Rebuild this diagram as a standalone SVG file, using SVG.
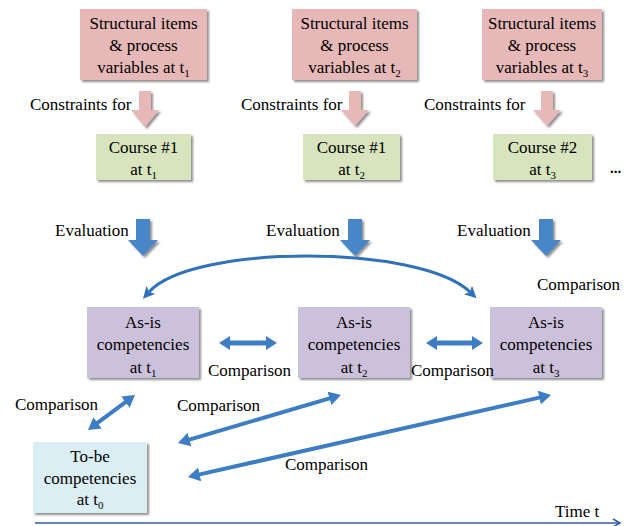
<svg xmlns="http://www.w3.org/2000/svg" width="625" height="526" viewBox="0 0 625 526">
<defs>
<filter id="sh" x="-10%" y="-10%" width="130%" height="130%">
<feDropShadow dx="2" dy="2" stdDeviation="1" flood-color="#444" flood-opacity="0.6"/>
</filter>
<marker id="dh" markerUnits="userSpaceOnUse" markerWidth="14" markerHeight="14" refX="1" refY="7" orient="auto-start-reverse" viewBox="0 0 14 14">
<path d="M0,0 L12,7 L0,14 z" fill="#3D7DC3"/>
</marker>
<marker id="ch" markerUnits="userSpaceOnUse" markerWidth="13" markerHeight="12" refX="3" refY="6" orient="auto-start-reverse" viewBox="0 0 13 12">
<path d="M0,0 L12,6 L0,12 L3,6 z" fill="#2F72BA"/>
</marker>
<marker id="th" markerUnits="userSpaceOnUse" markerWidth="10" markerHeight="10" refX="8" refY="5" orient="auto" viewBox="0 0 10 10">
<path d="M1,1 L8,5 L1,9" fill="none" stroke="#2F5AA8" stroke-width="1.5"/>
</marker>
</defs>
<style>
.pink{fill:#E6B9B8;filter:url(#sh)}
.green{fill:#D7E4BD;filter:url(#sh)}
.purple{fill:#CCC1DA;filter:url(#sh)}
.lblue{fill:#DBEEF4;filter:url(#sh)}
.parr{fill:#E6B9B8;filter:url(#sh)}
.barr{fill:#4A86C8;filter:url(#sh)}
.dbl{fill:#3D7DC3}
.dline{stroke:#3D7DC3;stroke-width:4;fill:none}
</style>

<g id="struct1"><rect class="pink" x="80" y="9" width="127" height="71"/>
<text font-family="Liberation Serif" font-size="17" text-anchor="middle" x="143.5" y="29">Structural items</text>
<text font-family="Liberation Serif" font-size="17" text-anchor="middle" x="143.5" y="51">&amp;  process</text>
<text font-family="Liberation Serif" font-size="17" text-anchor="middle" x="143.5" y="73">variables at t<tspan font-size="11" dy="4">1</tspan></text></g>
<g id="struct2"><rect class="pink" x="292" y="9" width="125" height="71"/>
<text font-family="Liberation Serif" font-size="17" text-anchor="middle" x="354.5" y="29">Structural items</text>
<text font-family="Liberation Serif" font-size="17" text-anchor="middle" x="354.5" y="51">&amp;  process</text>
<text font-family="Liberation Serif" font-size="17" text-anchor="middle" x="354.5" y="73">variables at t<tspan font-size="11" dy="4">2</tspan></text></g>
<g id="struct3"><rect class="pink" x="482" y="9" width="120" height="71"/>
<text font-family="Liberation Serif" font-size="17" text-anchor="middle" x="542" y="29">Structural items</text>
<text font-family="Liberation Serif" font-size="17" text-anchor="middle" x="542" y="51">&amp;  process</text>
<text font-family="Liberation Serif" font-size="17" text-anchor="middle" x="542" y="73">variables at t<tspan font-size="11" dy="4">3</tspan></text></g>

<g id="course1"><rect class="green" x="96" y="134" width="95" height="46"/>
<text font-family="Liberation Serif" font-size="17" text-anchor="middle" x="143.5" y="153">Course #1</text>
<text font-family="Liberation Serif" font-size="17" text-anchor="middle" x="143.5" y="175">at t<tspan font-size="11" dy="4">1</tspan></text></g>
<g id="course2"><rect class="green" x="303" y="134" width="97" height="46"/>
<text font-family="Liberation Serif" font-size="17" text-anchor="middle" x="351.5" y="153">Course #1</text>
<text font-family="Liberation Serif" font-size="17" text-anchor="middle" x="351.5" y="175">at t<tspan font-size="11" dy="4">2</tspan></text></g>
<g id="course3"><rect class="green" x="493" y="134" width="99" height="46"/>
<text font-family="Liberation Serif" font-size="17" text-anchor="middle" x="542.5" y="153">Course #2</text>
<text font-family="Liberation Serif" font-size="17" text-anchor="middle" x="542.5" y="175">at t<tspan font-size="11" dy="4">3</tspan></text></g>
<text font-family="Liberation Serif" x="610" y="173" font-size="15" font-weight="bold">...</text>

<g id="asis1"><rect class="purple" x="87" y="307" width="112" height="71"/>
<text font-family="Liberation Serif" font-size="17" text-anchor="middle" x="143" y="328">As-is</text>
<text font-family="Liberation Serif" font-size="17" text-anchor="middle" x="143" y="350">competencies</text>
<text font-family="Liberation Serif" font-size="17" text-anchor="middle" x="143" y="373">at t<tspan font-size="11" dy="4">1</tspan></text></g>
<g id="asis2"><rect class="purple" x="298" y="307" width="112" height="71"/>
<text font-family="Liberation Serif" font-size="17" text-anchor="middle" x="354" y="328">As-is</text>
<text font-family="Liberation Serif" font-size="17" text-anchor="middle" x="354" y="350">competencies</text>
<text font-family="Liberation Serif" font-size="17" text-anchor="middle" x="354" y="373">at t<tspan font-size="11" dy="4">2</tspan></text></g>
<g id="asis3"><rect class="purple" x="490" y="307" width="112" height="71"/>
<text font-family="Liberation Serif" font-size="17" text-anchor="middle" x="546" y="328">As-is</text>
<text font-family="Liberation Serif" font-size="17" text-anchor="middle" x="546" y="350">competencies</text>
<text font-family="Liberation Serif" font-size="17" text-anchor="middle" x="546" y="373">at t<tspan font-size="11" dy="4">3</tspan></text></g>

<g id="tobe"><rect class="lblue" x="33" y="442" width="114" height="71"/>
<text font-family="Liberation Serif" font-size="17" text-anchor="middle" x="90" y="462">To-be</text>
<text font-family="Liberation Serif" font-size="17" text-anchor="middle" x="90" y="484">competencies</text>
<text font-family="Liberation Serif" font-size="17" text-anchor="middle" x="90" y="505">at t<tspan font-size="11" dy="4">0</tspan></text></g>

<g id="connectors">
<polygon class="parr" points="139,91 151,91 151,110 159,110 145,127 131,110 139,110"/>
<polygon class="parr" points="349,91 361,91 361,110 369,110 355,126 341,110 349,110"/>
<polygon class="parr" points="541,91 553,91 553,110 561,110 547,126 533,110 541,110"/>
<text font-family="Liberation Serif" font-size="17" x="30" y="110">Constraints for</text>
<text font-family="Liberation Serif" font-size="17" x="241" y="110">Constraints for</text>
<text font-family="Liberation Serif" font-size="17" x="424" y="110">Constraints for</text>

<polygon class="barr" points="136,219 150,219 150,240 158,240 143,256 128,240 136,240"/>
<polygon class="barr" points="348,219 362,219 362,240 370,240 355,256 340,240 348,240"/>
<polygon class="barr" points="539,219 553,219 553,240 561,240 546,256 531,240 539,240"/>
<text font-family="Liberation Serif" font-size="17" x="55" y="236">Evaluation</text>
<text font-family="Liberation Serif" font-size="17" x="266" y="236">Evaluation</text>
<text font-family="Liberation Serif" font-size="17" x="457" y="236">Evaluation</text>

<path d="M149,292 C192,244 420,244 470,292" fill="none" stroke="#2F72BA" stroke-width="3" marker-start="url(#ch)" marker-end="url(#ch)"/>
<text font-family="Liberation Serif" font-size="17" x="537" y="290">Comparison</text>

<polygon class="dbl" points="219,343 230,336 230,340.5 266,340.5 266,336 277,343 266,350 266,345.5 230,345.5 230,350"/>
<polygon class="dbl" points="426,343 437,336 437,340.5 472,340.5 472,336 483,343 472,350 472,345.5 437,345.5 437,350"/>
<text font-family="Liberation Serif" font-size="17" x="208" y="376">Comparison</text>
<text font-family="Liberation Serif" font-size="17" x="411" y="376">Comparison</text>

<line class="dline" x1="96.8" y1="423.4" x2="126.2" y2="401.6" marker-start="url(#dh)" marker-end="url(#dh)"/>
<line class="dline" x1="188.5" y1="439.9" x2="330.4" y2="398.1" marker-start="url(#dh)" marker-end="url(#dh)"/>
<line class="dline" x1="198.7" y1="474.6" x2="540.3" y2="397.4" marker-start="url(#dh)" marker-end="url(#dh)"/>
<text font-family="Liberation Serif" font-size="17" x="15" y="410">Comparison</text>
<text font-family="Liberation Serif" font-size="17" x="177" y="411">Comparison</text>
<text font-family="Liberation Serif" font-size="17" x="285" y="470">Comparison</text>

<line x1="35" y1="523" x2="620" y2="523" stroke="#2F5AA8" stroke-width="1.5" marker-end="url(#th)"/>
<text font-family="Liberation Serif" font-size="17" x="555" y="517">Time t</text>
</g>
</svg>
